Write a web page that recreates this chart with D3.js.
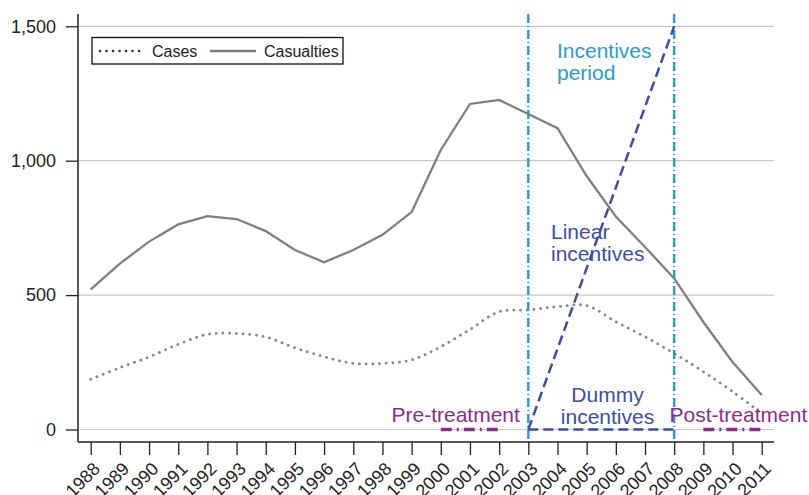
<!DOCTYPE html>
<html>
<head>
<meta charset="utf-8">
<script src="https://cdn.jsdelivr.net/npm/d3@7"></script>
<style>
  body { margin: 0; background: #fff; }
  svg text { font-family: "Liberation Sans", Arial, Helvetica, sans-serif; }
</style>
</head>
<body>
<div id="chart"></div>
<script>
// --- Data ---
const years = d3.range(1988, 2012);
const cases = [187, 230, 270, 317, 354, 357, 344, 304, 271, 246, 246, 259,
               308, 372, 438, 445, 457, 461, 401, 345, 283, 215, 141, 60];
const casualties = [521, 617, 699, 763, 794, 783, 738, 668, 622, 668, 724, 809,
                    1040, 1211, 1226, 1174, 1121, 943, 792, 679, 562, 400, 251, 128];
const yTicks = [0, 500, 1000, 1500];
const incentiveStart = 2003;
const incentiveEnd = 2008;
const preTreatment = [2000, 2002];
const postTreatment = [2009, 2011];
const linearIncentives = [[2003, 0], [2008, 1500]];
const dummyIncentives = [[2003, 0], [2008, 0]];

const width = 809, height = 495;
const blueLight = "#2b9bc9", blueDark = "#3a4fa3", purple = "#8a2d8a";

const svg = d3.select("#chart").append("svg")
    .attr("width", width)
    .attr("height", height);

// scales
const x = d3.scaleLinear().domain([1988, 2011]).range([90.7, 761.7]);
const y = d3.scaleLinear().domain([0, 1500]).range([429.5, 26.3]);
const axisX = 78, axisY = 442, plotRight = 774;

// gridlines
svg.append("g")
    .selectAll("line")
    .data(yTicks)
    .join("line")
    .attr("x1", axisX).attr("x2", plotRight)
    .attr("y1", d => y(d)).attr("y2", d => y(d))
    .attr("stroke", "#c8c8c8")
    .attr("stroke-width", 1.2);

// y axis
const yAxis = svg.append("g")
    .attr("transform", `translate(${axisX},0)`)
    .call(d3.axisLeft(y).tickValues(yTicks).tickSize(12).tickPadding(10).tickFormat(d3.format(",")));
yAxis.select(".domain").remove();
yAxis.selectAll(".tick line").attr("stroke", "#222").attr("stroke-width", 1.3);
yAxis.selectAll(".tick text").attr("font-size", 18).attr("fill", "#222")
    .attr("font-family", "Liberation Sans, Arial, sans-serif");

// x axis, labels turned 45 degrees
const xAxis = svg.append("g")
    .attr("transform", `translate(0,${axisY})`)
    .call(d3.axisBottom(x).tickValues(years).tickSize(13).tickFormat(d3.format("d")));
xAxis.select(".domain").remove();
xAxis.selectAll(".tick line").attr("stroke", "#222").attr("stroke-width", 1.3);
xAxis.selectAll(".tick text")
    .attr("font-size", 18).attr("fill", "#222")
    .attr("font-family", "Liberation Sans, Arial, sans-serif")
    .attr("text-anchor", "end")
    .attr("y", 0).attr("dy", 0)
    .attr("transform", "translate(10,28) rotate(-45)");

// axis lines
svg.append("line")
    .attr("x1", axisX).attr("x2", axisX).attr("y1", 14).attr("y2", axisY)
    .attr("stroke", "#222").attr("stroke-width", 1.5);
svg.append("line")
    .attr("x1", axisX).attr("x2", plotRight).attr("y1", axisY).attr("y2", axisY)
    .attr("stroke", "#222").attr("stroke-width", 1.5);

// series
const lineCases = d3.line()
    .x((d, i) => x(years[i]))
    .y(d => y(d))
    .curve(d3.curveCatmullRom);
const lineCasualties = d3.line()
    .x((d, i) => x(years[i]))
    .y(d => y(d));

svg.append("path")
    .datum(cases)
    .attr("d", lineCases)
    .attr("fill", "none")
    .attr("stroke", "#868686")
    .attr("stroke-width", 2.8)
    .attr("stroke-linecap", "round")
    .attr("stroke-dasharray", "0.1,6.6");

svg.append("path")
    .datum(casualties)
    .attr("d", lineCasualties)
    .attr("fill", "none")
    .attr("stroke", "#7f7f7f")
    .attr("stroke-width", 2.3);

// incentive period lines
svg.append("g")
    .selectAll("line")
    .data([incentiveStart, incentiveEnd])
    .join("line")
    .attr("x1", d => x(d)).attr("x2", d => x(d))
    .attr("y1", 14).attr("y2", axisY)
    .attr("stroke", blueLight)
    .attr("stroke-width", 2.4)
    .attr("stroke-dasharray", "9,3,1,3");

// linear and dummy incentives
const pt = d3.line().x(d => x(d[0])).y(d => y(d[1]));
[linearIncentives, dummyIncentives].forEach(seg => {
    svg.append("path")
        .datum(seg)
        .attr("d", pt)
        .attr("fill", "none")
        .attr("stroke", blueDark)
        .attr("stroke-width", 2.5)
        .attr("stroke-dasharray", "10,5");
});

// pre / post treatment
[preTreatment, postTreatment].forEach(r => {
    svg.append("line")
        .attr("x1", x(r[0])).attr("x2", x(r[1]))
        .attr("y1", y(0)).attr("y2", y(0))
        .attr("stroke", purple)
        .attr("stroke-width", 3.5)
        .attr("stroke-dasharray", "11,5,2,5");
});

// annotations
function label(lines, px, py, color, anchor) {
    const t = svg.append("text")
        .attr("x", px).attr("y", py)
        .attr("fill", color)
        .attr("font-size", 21)
        .attr("text-anchor", anchor || "start");
    lines.forEach((s, i) => {
        t.append("tspan").attr("x", px).attr("dy", i === 0 ? 0 : 22).text(s);
    });
}
label(["Incentives", "period"], 557, 58, blueLight);
label(["Linear", "incentives"], 551, 239, blueDark);
label(["Dummy", "incentives"], 607.5, 402, blueDark, "middle");
label(["Pre-treatment"], 391.5, 422, purple);
label(["Post-treatment"], 669.5, 422, purple);

// legend
const legend = svg.append("g");
legend.append("rect")
    .attr("x", 92).attr("y", 37.5)
    .attr("width", 251).attr("height", 26.5)
    .attr("fill", "#fff")
    .attr("stroke", "#111")
    .attr("stroke-width", 1.3);
legend.append("line")
    .attr("x1", 100).attr("x2", 145).attr("y1", 51).attr("y2", 51)
    .attr("stroke", "#333").attr("stroke-width", 2.5)
    .attr("stroke-linecap", "round")
    .attr("stroke-dasharray", "0.1,6.4");
legend.append("text")
    .attr("x", 152).attr("y", 57).attr("font-size", 16).attr("fill", "#222")
    .text("Cases");
legend.append("line")
    .attr("x1", 210).attr("x2", 256).attr("y1", 51).attr("y2", 51)
    .attr("stroke", "#7f7f7f").attr("stroke-width", 2.3);
legend.append("text")
    .attr("x", 264).attr("y", 57).attr("font-size", 16).attr("fill", "#222")
    .text("Casualties");
</script>
</body>
</html>
